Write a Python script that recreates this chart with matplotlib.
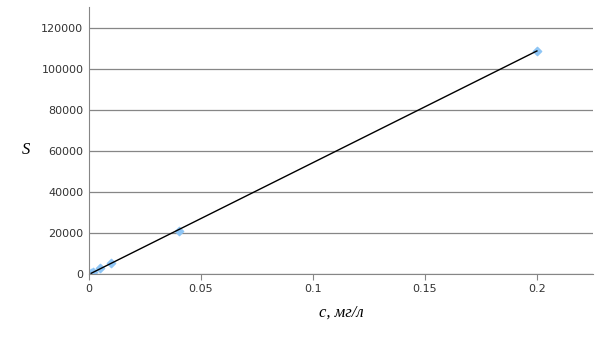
"""Calibration plot: peak area S vs concentration c."""
import numpy as np
import matplotlib.pyplot as plt

conc = [0.001, 0.002, 0.005, 0.01, 0.04, 0.2]
area = [600, 1150, 2700, 5200, 20900, 108800]
y_ticks = [0, 20000, 40000, 60000, 80000, 100000, 120000]
x_ticks = [0, 0.05, 0.1, 0.15, 0.2]


def plot_calibration() -> None:
    fig = plt.figure(figsize=(6.05, 3.4), dpi=100)
    ax = fig.add_axes([0.147, 0.194, 0.833, 0.785])

    k, b = np.polyfit(conc, area, 1)
    xs = np.array([min(conc), max(conc)])
    ax.plot(xs, k * xs + b, color='black', linewidth=1.0, zorder=3)
    ax.scatter(conc, area, marker='D', s=18, color='#8ec5f5', zorder=2)

    ax.set_xlim(0, 0.225)
    ax.set_ylim(0, 130000)
    ax.set_xticks(x_ticks)
    ax.set_xticklabels(['0', '0.05', '0.1', '0.15', '0.2'])
    ax.set_yticks(y_ticks)
    ax.set_yticklabels([str(v) for v in y_ticks])
    ax.grid(axis='y', color='#868686', linewidth=0.9)
    ax.set_axisbelow(True)

    for side in ['top', 'right']:
        ax.spines[side].set_visible(False)
    for side in ['left', 'bottom']:
        ax.spines[side].set_color('#868686')
    ax.tick_params(axis='x', colors='#868686', labelcolor='#333333',
                   labelsize=8, length=4, direction='out')
    ax.tick_params(axis='y', length=0, labelcolor='#333333', labelsize=8, pad=4)

    ax.set_xlabel('c, мг/л', family='Liberation Serif', style='italic',
                  fontsize=12, labelpad=7)
    ax.set_ylabel('S', family='Liberation Serif', style='italic',
                  fontsize=12, rotation=0, va='center', ha='center')
    ax.yaxis.set_label_coords(-0.125, 0.465)

    fig.savefig('out.png', dpi=100)


if __name__ == '__main__':
    plot_calibration()
